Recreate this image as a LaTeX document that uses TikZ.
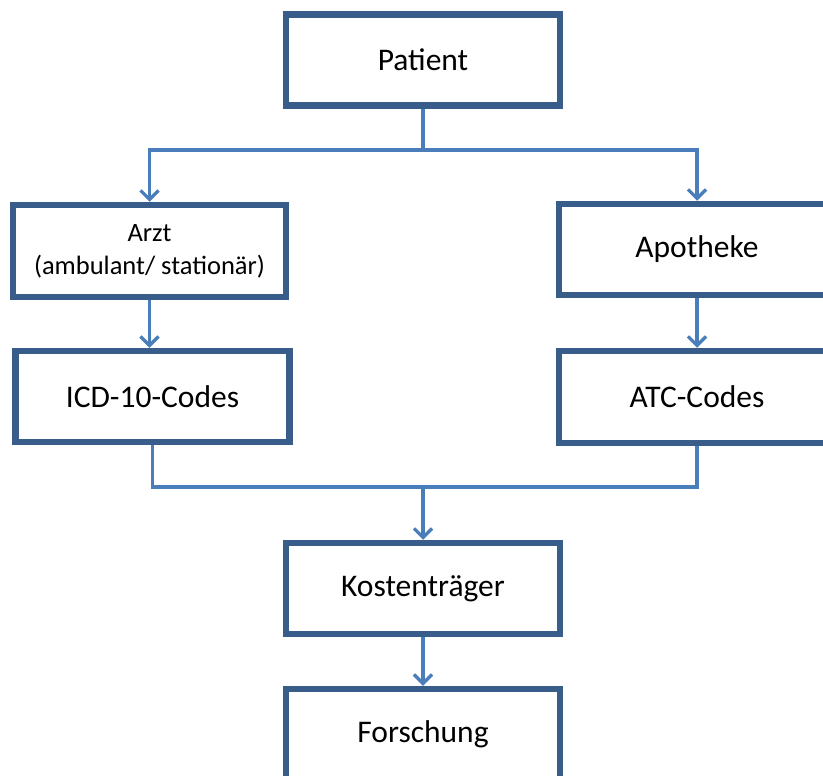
\documentclass[tikz,border=0pt]{standalone}
\usepackage{fontspec}
\setmainfont{Carlito}
\usetikzlibrary{arrows.meta}
\definecolor{boxblue}{HTML}{385D8A}
\definecolor{linkblue}{HTML}{4A7EBB}
\tikzset{
  box/.style={draw=boxblue, line width=6.5pt, fill=white, minimum width=274pt,
    minimum height=91pt, inner sep=0pt, align=center,
    font=\fontsize{31.5}{38}\selectfont},
  smallbox/.style={box, font=\fontsize{26.5}{33}\selectfont},
  conn/.style={draw=linkblue, line width=3.2pt},
  arr/.style={conn, -{Straight Barb[length=9pt, width=18pt, line width=3.2pt]}}
}
\begin{document}
\begin{tikzpicture}[x=1pt, y=-1pt]
\useasboundingbox (0,0) rectangle (823,776);
\clip (0,0) rectangle (823,776);
\node[box] (P) at (423,60) {Patient};
\node[smallbox, minimum width=273pt, minimum height=92pt] (A) at (149.5,251) {Arzt\\(ambulant/ stationär)};
\node[box, minimum width=276pt] (Ap) at (697,249.5) {Apotheke};
\node[box] (I) at (152.5,396.5) {ICD-10-Codes};
\node[box, minimum width=276pt, minimum height=92pt] (T) at (697,397) {ATC-Codes};
\node[box] (K) at (423,588.5) {Kostenträger};
\node[box] (F) at (423,734.5) {Forschung};
\coordinate (j1) at (423,150);
\coordinate (j2) at (423,487);
\draw[conn] (P.south) -- (j1);
\draw[arr] (j1) -| (A.north);
\draw[arr] (j1) -| (Ap.north);
\draw[arr] (A.south) -- (A.south |- I.north);
\draw[arr] (Ap.south) -- (T.north);
\draw[conn] (I.south) |- (j2) -| (T.south);
\draw[arr] (j2) -- (K.north);
\draw[arr] (K.south) -- (F.north);
\end{tikzpicture}
\end{document}
